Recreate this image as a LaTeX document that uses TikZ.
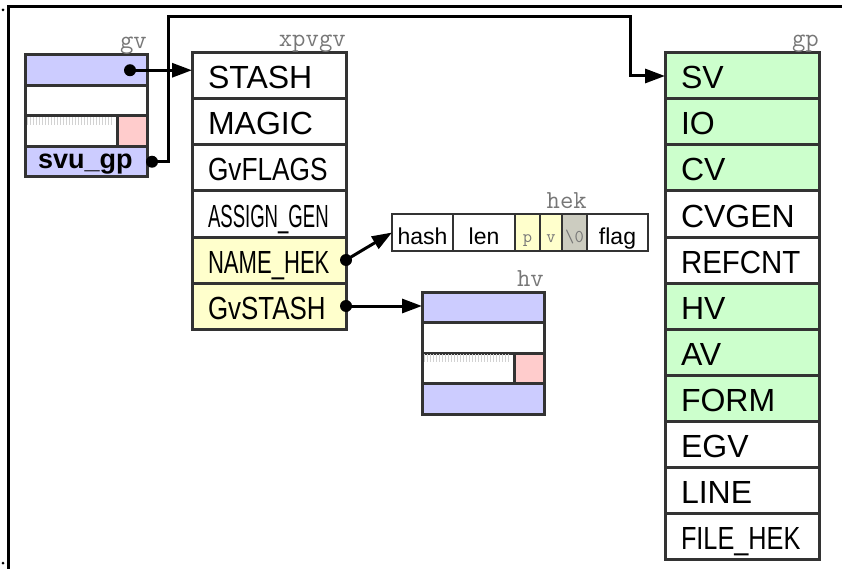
\documentclass[tikz,border=0pt]{standalone}
\usepackage{fontspec}
\usepackage{graphicx}
\setmainfont{Liberation Sans}
\usetikzlibrary{arrows.meta}
\usetikzlibrary{positioning}
\definecolor{svblue}{HTML}{CCCCFF}
\definecolor{gpgreen}{HTML}{CCFFCC}
\definecolor{hekyellow}{HTML}{FFFFCC}
\definecolor{nulgray}{HTML}{CCCCC0}
\definecolor{flagpink}{HTML}{FFCCCC}
\definecolor{boxline}{HTML}{333333}
\definecolor{taggray}{HTML}{777777}
\newcommand\sq[2]{\scalebox{#1}[1]{#2}}
\tikzset{
  cell/.style={draw=boxline, line width=3pt, anchor=north west, outer sep=0pt,
    minimum width=154pt, minimum height=46pt, inner xsep=16pt, inner ysep=0pt,
    text width=122pt, align=left, text height=26pt, text depth=0pt,
    font=\fontsize{32}{32}\selectfont},
  svcell/.style={draw=boxline, line width=3pt, anchor=north west, outer sep=0pt,
    minimum width=122pt, minimum height=30.5pt, inner sep=0pt},
  hekcell/.style={draw=boxline, line width=2pt, minimum height=37pt, outer sep=0pt,
    inner sep=0pt, text height=24pt, text depth=0pt,
    font=\fontsize{23}{23}\selectfont},
  hekbyte/.style={hekcell, text=taggray, text height=20pt,
    font=\ttfamily\fontsize{18}{18}\selectfont},
  tag/.style={anchor=base east, yshift=6pt, inner sep=0pt, text=taggray,
    font=\ttfamily\fontsize{26}{26}\selectfont},
  dot/.style={circle, fill=black, inner sep=0pt, minimum size=12pt},
  link/.style={line width=3pt, -{Triangle[length=20pt,width=14pt]}},
  hatch/.style={draw=gray!35, line width=8pt, dash pattern=on 1pt off 2pt},
}

\begin{document}
\begin{tikzpicture}[x=1pt, y=-1pt]
        \useasboundingbox (0,0) rectangle (842,569);
        % frame
        \draw[line width=3pt] (8,569) -- (8,7) -- (842,7);
        \fill (3,10) circle (1.5pt);
        \fill (3,563) circle (1.5pt);
        % gv and hv heads
        \foreach \nm/\x/\y in {gv/25/55, hv/422/292}
        {
            \foreach \col [count=\j from 0] in {svblue, white, white, svblue}
                \node[svcell, fill=\col] (\nm\j) at (\x,{\y+30.5*\j}) {};
            \draw[hatch] (\x+2,\y+66) -- (\x+88,\y+66);
            \node[svcell, fill=flagpink, minimum width=30pt] (\nm pink) at (\x+92,\y+61) {};
        }
        \node[anchor=west, inner sep=0pt, text height=18pt, text depth=4pt,
            font=\bfseries\fontsize{27}{27}\selectfont] (svutext) at ([xshift=13pt]gv3.west) {svu\_gp};
        \node[tag] at (gv0.north east) {gv};
        \node[tag] at (hv0.north east) {hv};
        % xpvgv body
        \foreach \txt/\col [count=\i from 0] in {STASH/white, MAGIC/white,
            {\sq{.82}{GvFLAGS}}/white, {\sq{.58}{ASSIGN\_GEN}}/white,
            {\sq{.69}{NAME\_HEK}}/hekyellow, {\sq{.81}{GvSTASH}}/hekyellow}
        {
            \node[cell, fill=\col] (xp\i) at (192,{53+46*\i}) {\txt};
        }
        \node[tag] at (xp0.north east) {xpvgv};
        % gp body
        \foreach \txt/\col [count=\i from 0] in {SV/gpgreen, IO/gpgreen, CV/gpgreen,
            CVGEN/white, {\sq{.92}{REFCNT}}/white, HV/gpgreen, AV/gpgreen,
            FORM/gpgreen, EGV/white, LINE/white, {\sq{.79}{FILE\_HEK}}/white}
        {
            \node[cell, fill=\col, minimum width=153pt] (gp\i) at (665,{53+46*\i}) {\txt};
        }
        \node[tag] at (gp0.north east) {gp};
        % hek
        \node[hekcell, anchor=north west, minimum width=61pt] (hekhash) at (392,214) {hash};
        \node[hekcell, minimum width=62pt, right=0pt of hekhash] (heklen) {len};
        \node[hekbyte, minimum width=25pt, fill=hekyellow, right=0pt of heklen] (hekp) {p};
        \node[hekbyte, minimum width=22pt, fill=hekyellow, right=0pt of hekp] (hekv) {v};
        \node[hekbyte, minimum width=25pt, fill=nulgray, right=0pt of hekv] (heknul) {\textbackslash0};
        \node[hekcell, minimum width=61pt, right=0pt of heknul] (hekflag) {flag};
        \node[tag] at (heknul.north east) {hek};
        % pointers
        \node[dot] (gvdot) at ([xshift=-17pt]gv0.east) {};
        \draw[link] (gvdot.center) -- (gvdot -| xp0.west);
        \node[dot] (svudot) at ([xshift=5pt]gv3.east) {};
        \coordinate (upA) at (168,17);
        \coordinate (upB) at (630,17);
        \draw[link] (svudot.center) -| (upA) -- (upB) |- (gp0.west);
        \node[dot] (namedot) at (xp4.east) {};
        \draw[link] (namedot.center) -- (hekhash.west);
        \node[dot] (stashdot) at (xp5.east) {};
        \draw[link] (stashdot.center) -- (stashdot -| hv0.west);
    \end{tikzpicture}
\end{document}
